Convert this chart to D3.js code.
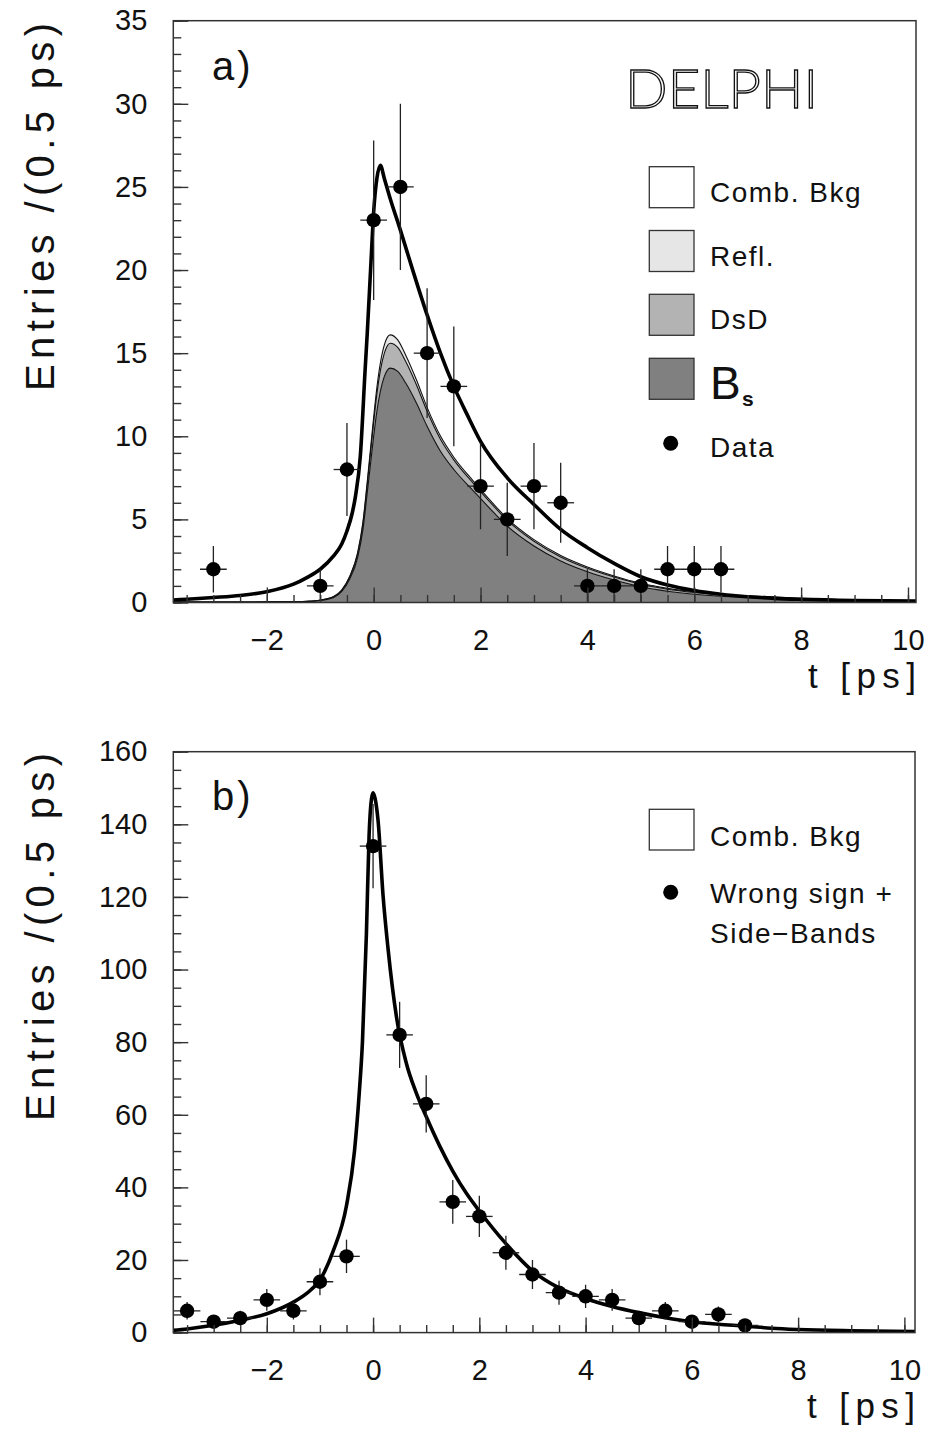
<!DOCTYPE html>
<html>
<head>
<meta charset="utf-8">
<script src="https://cdn.jsdelivr.net/npm/d3@7/dist/d3.min.js"></script>
<style>
  html, body { margin: 0; padding: 0; background: #fff; }
  svg { display: block; font-family: "Liberation Sans", Arial, sans-serif; }
</style>
</head>
<body>
<svg id="chart" width="925" height="1431"></svg>
<script>
// ---------------- DATA ----------------
// Panel a) data points
const binsA   = [-3.0, -1.0, -0.5, 0.0, 0.5, 1.0, 1.5, 2.0, 2.5, 3.0, 3.5, 4.0, 4.5, 5.0, 5.5, 6.0, 6.5];
const countsA = [2, 1, 8, 23, 25, 15, 13, 7, 5, 7, 6, 1, 1, 1, 2, 2, 2];
const errorsA = [1.4, 1.0, 2.8, 4.8, 5.0, 3.9, 3.6, 2.6, 2.2, 2.6, 2.4, 1.0, 1.0, 1.0, 1.4, 1.4, 1.4];

// Panel a) total fit curve
const fitTA   = [-3.75, -3.5, -3, -2.5, -2, -1.5, -1.25, -1, -0.75, -0.6, -0.5, -0.4, -0.34, -0.25, -0.16, -0.12, -0.05, 0, 0.06, 0.125, 0.2, 0.3, 0.5, 0.75, 1.0, 1.25, 1.5, 1.75, 2.0, 2.5, 3.0, 3.5, 4.0, 4.5, 5.0, 5.5, 6.0, 6.5, 7.0, 7.5, 8.0, 9.0, 10.15];
const fitYA   = [0.15, 0.2, 0.3, 0.42, 0.65, 1.1, 1.5, 2.0, 2.8, 3.5, 4.3, 5.4, 6.4, 8.8, 14.0, 16.2, 20.5, 23.5, 25.5, 26.3, 25.5, 24.4, 22.4, 19.8, 17.3, 15.0, 13.0, 11.3, 9.7, 7.5, 5.9, 4.4, 3.3, 2.35, 1.55, 1.05, 0.72, 0.5, 0.35, 0.25, 0.19, 0.12, 0.09];

// Panel a) stacked components (per-component contributions)
const compT   = [-3.75, -3, -2, -1.5, -1.25, -1, -0.75, -0.6, -0.45, -0.3, -0.2, -0.12, -0.05, 0, 0.06, 0.125, 0.2, 0.31, 0.45, 0.6, 0.8, 1.0, 1.25, 1.5, 1.87, 2.25, 2.5, 3.0, 3.5, 4.0, 4.5, 5.0, 5.5, 6.0, 6.5, 7.0, 8.0, 9.0, 10.15];
const bsVals  = [0.02, 0.02, 0.03, 0.04, 0.06, 0.12, 0.3, 0.65, 1.4, 2.7, 4.4, 6.6, 8.6, 10.0, 11.5, 12.7, 13.6, 14.1, 13.9, 13.2, 12.0, 10.6, 9.1, 8.0, 6.7, 5.4, 4.6, 3.4, 2.5, 1.85, 1.35, 0.95, 0.68, 0.5, 0.38, 0.3, 0.17, 0.1, 0.06];
const dsdVals = [0, 0, 0.005, 0.01, 0.01, 0.02, 0.04, 0.07, 0.12, 0.22, 0.35, 0.5, 0.7, 0.85, 1.05, 1.25, 1.4, 1.5, 1.45, 1.3, 1.1, 0.9, 0.72, 0.58, 0.45, 0.38, 0.34, 0.28, 0.24, 0.21, 0.18, 0.15, 0.12, 0.1, 0.08, 0.07, 0.05, 0.03, 0.02];
const reflVals= [0, 0, 0, 0.005, 0.005, 0.01, 0.02, 0.03, 0.05, 0.08, 0.12, 0.18, 0.25, 0.3, 0.38, 0.45, 0.5, 0.5, 0.45, 0.38, 0.3, 0.24, 0.19, 0.16, 0.14, 0.12, 0.11, 0.1, 0.09, 0.08, 0.07, 0.06, 0.05, 0.05, 0.04, 0.04, 0.03, 0.02, 0.01];

// Panel b) data points
const binsB   = [-3.5, -3.0, -2.5, -2.0, -1.5, -1.0, -0.5, 0.0, 0.5, 1.0, 1.5, 2.0, 2.5, 3.0, 3.5, 4.0, 4.5, 5.0, 5.5, 6.0, 6.5, 7.0];
const countsB = [6, 3, 4, 9, 6, 14, 21, 134, 82, 63, 36, 32, 22, 16, 11, 10, 9, 4, 6, 3, 5, 2];
const errorsB = [2.4, 1.7, 2.0, 3.0, 2.4, 3.7, 4.6, 11.6, 9.1, 7.9, 6.0, 5.7, 4.7, 4.0, 3.3, 3.2, 3.0, 2.0, 2.4, 1.7, 2.2, 1.4];

// Panel b) fit curve
const fitTB   = [-3.76, -3.5, -3, -2.5, -2, -1.5, -1.25, -1, -0.75, -0.5, -0.35, -0.26, -0.2, -0.125, -0.075, -0.03, 0, 0.04, 0.094, 0.19, 0.28, 0.44, 0.63, 0.8, 1.0, 1.25, 1.5, 1.75, 2.0, 2.5, 3.0, 3.5, 4.0, 4.5, 5.0, 5.5, 6.0, 6.5, 7.0, 7.5, 8.0, 9.0, 10.2];
const fitYB   = [0.6, 1.0, 2.0, 3.4, 5.2, 8.4, 10.8, 14.5, 22.5, 35, 50, 66, 80, 110, 137, 147, 148.7, 147, 141, 120, 106, 87, 74, 66.5, 59.5, 51.5, 44.5, 38.5, 33.5, 24.5, 17, 12.3, 9.4, 7.2, 5.5, 4.1, 3.0, 2.3, 1.8, 1.2, 0.85, 0.5, 0.3];

const binWidth = 0.5;
const xTickLabels = [-2, 0, 2, 4, 6, 8, 10];
const yTicksA = [0, 5, 10, 15, 20, 25, 30, 35];
const yTicksB = [0, 20, 40, 60, 80, 100, 120, 140, 160];

const legendA = [
  {label: "Comb. Bkg", fill: "#ffffff"},
  {label: "Refl.",     fill: "#e6e6e6"},
  {label: "DsD",       fill: "#b3b3b3"},
  {label: "B",         fill: "#808080", sub: "s"}
];

// ---------------- DRAWING ----------------
const svg = d3.select("#chart");
const TXT = "#111";

function drawPanel(opt) {
  const g = svg.append("g");
  const {x, y} = opt;
  const [x0, x1] = x.range();
  const [yb, yt] = y.range();
  const clipId = "clip" + opt.id;
  svg.append("defs").append("clipPath").attr("id", clipId)
    .append("rect").attr("x", x0).attr("y", yt).attr("width", x1 - x0).attr("height", yb - yt);
  const plot = g.append("g").attr("clip-path", `url(#${clipId})`);

  // stacked components
  if (opt.stack) {
    const rows = opt.stack.t.map((t, i) => ({t, bs: opt.stack.bs[i], dsd: opt.stack.dsd[i], refl: opt.stack.refl[i]}));
    const series = d3.stack().keys(["bs", "dsd", "refl"])(rows);
    const fills = {bs: "#808080", dsd: "#b3b3b3", refl: "#e6e6e6"};
    const area = d3.area().x(d => x(d.data.t)).y0(d => y(d[0])).y1(d => y(d[1])).curve(d3.curveMonotoneX);
    const top = d3.line().x(d => x(d.data.t)).y(d => y(d[1])).curve(d3.curveMonotoneX);
    series.forEach(s => {
      plot.append("path").attr("d", area(s)).attr("fill", fills[s.key]).attr("stroke", "none");
    });
    series.forEach(s => {
      plot.append("path").attr("d", top(s)).attr("fill", "none").attr("stroke", "#111").attr("stroke-width", 1.1);
    });
  }

  // fit curve
  const line = d3.line().x(d => x(d[0])).y(d => y(d[1])).curve(d3.curveMonotoneX);
  plot.append("path").attr("d", line(opt.fitT.map((t, i) => [t, opt.fitY[i]])))
    .attr("fill", "none").attr("stroke", "#000").attr("stroke-width", 3.6).attr("stroke-linejoin", "round");

  // data points
  const pts = plot.append("g");
  opt.bins.forEach((b, i) => {
    const c = opt.counts[i], e = opt.errors[i];
    pts.append("line").attr("x1", x(b)).attr("x2", x(b)).attr("y1", y(c - e)).attr("y2", y(c + e))
      .attr("stroke", "#222").attr("stroke-width", 1.3);
    pts.append("line").attr("x1", x(b - binWidth / 2)).attr("x2", x(b + binWidth / 2)).attr("y1", y(c)).attr("y2", y(c))
      .attr("stroke", "#222").attr("stroke-width", 1.3);
    pts.append("circle").attr("cx", x(b)).attr("cy", y(c)).attr("r", 7.2).attr("fill", "#000");
  });

  // frame
  g.append("rect").attr("x", x0).attr("y", yt).attr("width", x1 - x0).attr("height", yb - yt)
    .attr("fill", "none").attr("stroke", "#333").attr("stroke-width", 1.5);

  // x axis (ticks inward)
  const minorX = d3.range(Math.ceil(x.domain()[0] * 2) / 2, x.domain()[1] + 1e-9, 0.5);
  g.append("g").attr("transform", `translate(0,${yb})`)
    .call(d3.axisBottom(x).tickValues(minorX).tickSizeInner(-7.5).tickSizeOuter(0).tickFormat(""))
    .call(a => a.select(".domain").remove());
  g.append("g").attr("transform", `translate(0,${yb})`)
    .call(d3.axisBottom(x).tickValues(xTickLabels).tickSizeInner(-15).tickSizeOuter(0).tickPadding(27))
    .call(a => a.select(".domain").remove())
    .call(a => a.selectAll("text").attr("font-size", 29).attr("fill", TXT).attr("font-family", "Liberation Sans, Arial, sans-serif"));

  // y axis
  g.append("g").attr("transform", `translate(${x0},0)`)
    .call(d3.axisLeft(y).tickValues(d3.range(0, y.domain()[1] + 1e-9, opt.minorY)).tickSizeInner(-8).tickSizeOuter(0).tickFormat(""))
    .call(a => a.select(".domain").remove());
  g.append("g").attr("transform", `translate(${x0},0)`)
    .call(d3.axisLeft(y).tickValues(opt.yTicks).tickSizeInner(-15).tickSizeOuter(0).tickPadding(26))
    .call(a => a.select(".domain").remove())
    .call(a => a.selectAll("text").attr("font-size", 29).attr("fill", TXT).attr("font-family", "Liberation Sans, Arial, sans-serif"));
  g.selectAll(".tick line").attr("stroke", "#333").attr("stroke-width", 1.4);

  // axis titles
  g.append("text").attr("x", x1).attr("y", yb + 85).attr("text-anchor", "end")
    .attr("font-size", 35).attr("fill", TXT).attr("textLength", 108).attr("lengthAdjust", "spacing")
    .text("t [ps]");
  g.append("text").attr("transform", `translate(54,${opt.titleCenter}) rotate(-90)`).attr("text-anchor", "middle")
    .attr("font-size", 40).attr("fill", TXT).attr("textLength", 368).attr("lengthAdjust", "spacing")
    .text("Entries /(0.5 ps)");

  // panel letter
  g.append("text").attr("x", 212).attr("y", yt + opt.letterDy).attr("font-size", 40).attr("fill", TXT)
    .attr("letter-spacing", 3).text(opt.letter);
  return g;
}

const xA = d3.scaleLinear().domain([-3.75, 10.15]).range([173.3, 916]);
const yA = d3.scaleLinear().domain([0, 35]).range([602.5, 20.7]);
const gA = drawPanel({
  id: "A", x: xA, y: yA, bins: binsA, counts: countsA, errors: errorsA,
  fitT: fitTA, fitY: fitYA, stack: {t: compT, bs: bsVals, dsd: dsdVals, refl: reflVals},
  yTicks: yTicksA, minorY: 1, titleCenter: 207, letter: "a)", letterDy: 59
});

const xB = d3.scaleLinear().domain([-3.76, 10.2]).range([173.3, 915]);
const yB = d3.scaleLinear().domain([0, 160]).range([1332.6, 751.7]);
const gB = drawPanel({
  id: "B", x: xB, y: yB, bins: binsB, counts: countsB, errors: errorsB,
  fitT: fitTB, fitY: fitYB, stack: null,
  yTicks: yTicksB, minorY: 5, titleCenter: 937, letter: "b)", letterDy: 58
});

// DELPHI label (thin outlined letters)
svg.append("text").attr("x", 625).attr("y", 108).attr("font-size", 54)
  .attr("font-family", "Lato, 'Open Sans', 'Liberation Sans', sans-serif").attr("font-weight", 300)
  .attr("fill", "#fff").attr("stroke", "#111").attr("stroke-width", 1.3)
  .attr("textLength", 193).attr("lengthAdjust", "spacingAndGlyphs")
  .text("DELPHI");

// Legend panel a
const legTopA = [166.7, 230.5, 294.3, 358.3];
legendA.forEach((d, i) => {
  const yTop = legTopA[i];
  svg.append("rect").attr("x", 649.3).attr("y", yTop).attr("width", 44.7).attr("height", 41)
    .attr("fill", d.fill).attr("stroke", "#333").attr("stroke-width", 1.3);
  if (d.sub) {
    svg.append("text").attr("x", 710).attr("y", yTop + 41).attr("font-size", 46).attr("fill", TXT).text(d.label);
    svg.append("text").attr("x", 742).attr("y", yTop + 48).attr("font-size", 21).attr("font-weight", "bold").attr("fill", TXT).text(d.sub);
  } else {
    svg.append("text").attr("x", 710).attr("y", yTop + 35).attr("font-size", 28).attr("letter-spacing", 1.5).attr("fill", TXT).text(d.label);
  }
});
svg.append("circle").attr("cx", 670.7).attr("cy", 443.3).attr("r", 7.5).attr("fill", "#000");
svg.append("text").attr("x", 710).attr("y", 456.5).attr("font-size", 28).attr("letter-spacing", 1.5).attr("fill", TXT).text("Data");

// Legend panel b
svg.append("rect").attr("x", 649.3).attr("y", 809.3).attr("width", 44.7).attr("height", 40.7)
  .attr("fill", "#fff").attr("stroke", "#333").attr("stroke-width", 1.3);
svg.append("text").attr("x", 710).attr("y", 846).attr("font-size", 28).attr("letter-spacing", 1.5).attr("fill", TXT).text("Comb. Bkg");
svg.append("circle").attr("cx", 670.7).attr("cy", 892.3).attr("r", 7.5).attr("fill", "#000");
svg.append("text").attr("x", 710).attr("y", 902.7).attr("font-size", 28).attr("letter-spacing", 1.5).attr("fill", TXT).text("Wrong sign +");
svg.append("text").attr("x", 710).attr("y", 942.7).attr("font-size", 28).attr("letter-spacing", 1.5).attr("fill", TXT).text("Side\u2212Bands");
</script>
</body>
</html>
